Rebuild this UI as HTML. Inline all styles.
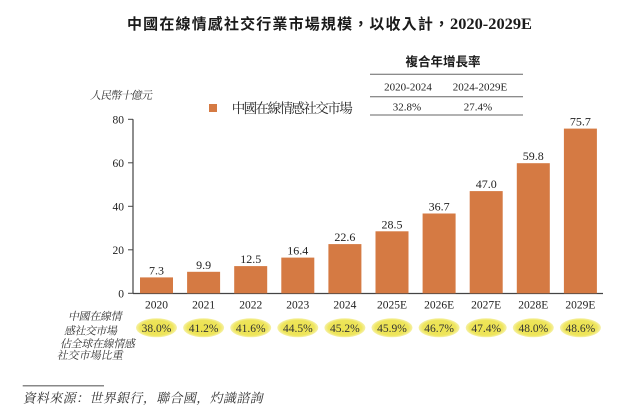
<!DOCTYPE html>
<html>
<head>
<meta charset="utf-8">
<style>
  html,body{margin:0;padding:0;background:#fff;}
  svg{display:block;}
  .serif{font-family:"Liberation Serif","Noto Serif CJK SC",serif;}
  .sans{font-family:"Liberation Sans","Noto Sans CJK TC",sans-serif;}
  .ming{font-family:"Liberation Serif","Noto Serif CJK SC",serif;}
</style>
</head>
<body>
<svg width="640" height="417" viewBox="0 0 640 417" xmlns="http://www.w3.org/2000/svg">
  <defs>
    <radialGradient id="yg" cx="50%" cy="50%" r="50%">
      <stop offset="0%" stop-color="#ECE24E"/>
      <stop offset="80%" stop-color="#EEE55C"/>
      <stop offset="100%" stop-color="#F6F1A8"/>
    </radialGradient>
  </defs>
  <rect width="640" height="417" fill="#fff"/>

  <!-- Title -->
  <text x="127" y="29" class="sans" font-size="15" font-weight="bold" fill="#1a1a1a" textLength="322" lengthAdjust="spacing">中國在線情感社交行業市場規模，以收入計，</text>
  <text x="450" y="29" class="serif" font-size="16" font-weight="bold" fill="#1a1a1a" textLength="82" lengthAdjust="spacingAndGlyphs">2020-2029E</text>

  <!-- CAGR table -->
  <text x="443" y="66" class="sans" font-size="12.5" font-weight="bold" fill="#1a1a1a" text-anchor="middle">複合年增長率</text>
  <line x1="370" y1="74.3" x2="523" y2="74.3" stroke="#666" stroke-width="1"/>
  <text x="408" y="90.7" class="serif" font-size="11" fill="#222" text-anchor="middle">2020-2024</text>
  <text x="480" y="90.7" class="serif" font-size="11" fill="#222" text-anchor="middle">2024-2029E</text>
  <line x1="370" y1="96.7" x2="523" y2="96.7" stroke="#666" stroke-width="1"/>
  <text x="407" y="110.7" class="serif" font-size="11" fill="#222" text-anchor="middle">32.8%</text>
  <text x="478" y="110.7" class="serif" font-size="11" fill="#222" text-anchor="middle">27.4%</text>
  <line x1="370" y1="115" x2="523" y2="115" stroke="#666" stroke-width="1"/>

  <!-- Unit & legend -->
  <g transform="translate(90,99) skewX(-12)">
    <text x="0" y="0" class="ming" font-size="11" fill="#333" textLength="62" lengthAdjust="spacing">人民幣十億元</text>
  </g>
  <rect x="209" y="104" width="8" height="8" fill="#D57A43"/>
  <text x="231.7" y="113" class="ming" font-size="13.5" fill="#222" textLength="121" lengthAdjust="spacing">中國在線情感社交市場</text>

  <!-- Axes -->
  <line x1="133" y1="119.3" x2="133" y2="293.5" stroke="#444" stroke-width="1.2"/>
  <line x1="133" y1="293.5" x2="603" y2="293.5" stroke="#444" stroke-width="1.2"/>
  <g stroke="#444" stroke-width="1">
    <line x1="128" y1="119.3" x2="133" y2="119.3"/>
    <line x1="128" y1="162.8" x2="133" y2="162.8"/>
    <line x1="128" y1="206.3" x2="133" y2="206.3"/>
    <line x1="128" y1="249.8" x2="133" y2="249.8"/>
    <line x1="128" y1="293.3" x2="133" y2="293.3"/>
  </g>
  <g class="serif" font-size="11.5" fill="#222" text-anchor="end">
    <text x="124" y="123.3">80</text>
    <text x="124" y="166.8">60</text>
    <text x="124" y="210.3">40</text>
    <text x="124" y="253.8">20</text>
    <text x="124" y="297.3">0</text>
  </g>

  <!-- Bars -->
  <g fill="#D57A43">
    <rect x="140" y="277.4" width="33" height="15.9"/>
    <rect x="187.1" y="271.8" width="33" height="21.5"/>
    <rect x="234.2" y="266.1" width="33" height="27.2"/>
    <rect x="281.3" y="257.6" width="33" height="35.7"/>
    <rect x="328.4" y="244.1" width="33" height="49.2"/>
    <rect x="375.5" y="231.3" width="33" height="62"/>
    <rect x="422.6" y="213.5" width="33" height="79.8"/>
    <rect x="469.7" y="191.1" width="33" height="102.2"/>
    <rect x="516.8" y="163.2" width="33" height="130.1"/>
    <rect x="563.9" y="128.6" width="33" height="164.7"/>
  </g>

  <!-- Value labels -->
  <g class="serif" font-size="12" fill="#222" text-anchor="middle">
    <text x="156.5" y="274.4">7.3</text>
    <text x="203.6" y="268.8">9.9</text>
    <text x="250.7" y="263.1">12.5</text>
    <text x="297.8" y="254.6">16.4</text>
    <text x="344.9" y="241.1">22.6</text>
    <text x="392" y="228.3">28.5</text>
    <text x="439.1" y="210.5">36.7</text>
    <text x="486.2" y="188.1">47.0</text>
    <text x="533.3" y="160.2">59.8</text>
    <text x="580.4" y="125.6">75.7</text>
  </g>

  <!-- Year labels -->
  <g class="serif" font-size="11.5" fill="#222" text-anchor="middle">
    <text x="156.5" y="308.3">2020</text>
    <text x="203.6" y="308.3">2021</text>
    <text x="250.7" y="308.3">2022</text>
    <text x="297.8" y="308.3">2023</text>
    <text x="344.9" y="308.3">2024</text>
    <text x="392" y="308.3">2025E</text>
    <text x="439.1" y="308.3">2026E</text>
    <text x="486.2" y="308.3">2027E</text>
    <text x="533.3" y="308.3">2028E</text>
    <text x="580.4" y="308.3">2029E</text>
  </g>

  <!-- Share ellipses -->
  <g fill="url(#yg)">
    <ellipse cx="156.5" cy="327.8" rx="20.5" ry="9.5"/>
    <ellipse cx="203.6" cy="327.8" rx="20.5" ry="9.5"/>
    <ellipse cx="250.7" cy="327.8" rx="20.5" ry="9.5"/>
    <ellipse cx="297.8" cy="327.8" rx="20.5" ry="9.5"/>
    <ellipse cx="344.9" cy="327.8" rx="20.5" ry="9.5"/>
    <ellipse cx="392" cy="327.8" rx="20.5" ry="9.5"/>
    <ellipse cx="439.1" cy="327.8" rx="20.5" ry="9.5"/>
    <ellipse cx="486.2" cy="327.8" rx="20.5" ry="9.5"/>
    <ellipse cx="533.3" cy="327.8" rx="20.5" ry="9.5"/>
    <ellipse cx="580.4" cy="327.8" rx="20.5" ry="9.5"/>
  </g>
  <g class="serif" font-size="11.5" fill="#333" text-anchor="middle">
    <text x="156.5" y="331.8">38.0%</text>
    <text x="203.6" y="331.8">41.2%</text>
    <text x="250.7" y="331.8">41.6%</text>
    <text x="297.8" y="331.8">44.5%</text>
    <text x="344.9" y="331.8">45.2%</text>
    <text x="392" y="331.8">45.9%</text>
    <text x="439.1" y="331.8">46.7%</text>
    <text x="486.2" y="331.8">47.4%</text>
    <text x="533.3" y="331.8">48.0%</text>
    <text x="580.4" y="331.8">48.6%</text>
  </g>

  <!-- Left row label -->
  <g class="ming" font-size="11" fill="#333">
    <g transform="translate(68,320) skewX(-12)"><text x="0" y="0" textLength="53.7" lengthAdjust="spacing">中國在線情</text></g>
    <g transform="translate(64,334.7) skewX(-12)"><text x="0" y="0" textLength="53" lengthAdjust="spacing">感社交市場</text></g>
    <g transform="translate(60,347.3) skewX(-12)"><text x="0" y="0" textLength="75" lengthAdjust="spacing">佔全球在線情感</text></g>
    <g transform="translate(56.7,359) skewX(-12)"><text x="0" y="0" textLength="66" lengthAdjust="spacing">社交市場比重</text></g>
  </g>

  <!-- Source -->
  <line x1="22.7" y1="385.7" x2="104" y2="385.7" stroke="#888" stroke-width="1.5"/>
  <g transform="translate(22.7,402.5) skewX(-12)">
    <text x="0" y="0" class="ming" font-size="13" fill="#333" textLength="240" lengthAdjust="spacing">資料來源：世界銀行，聯合國，灼識諮詢</text>
  </g>
</svg>
</body>
</html>
